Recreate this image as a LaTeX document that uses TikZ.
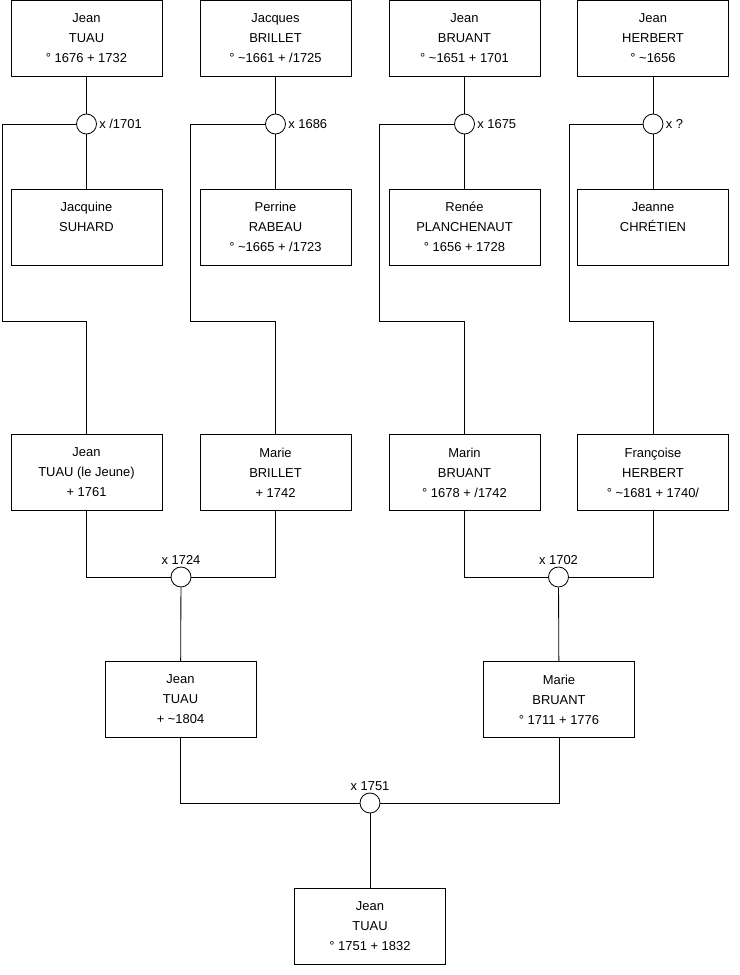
\documentclass[tikz,border=0pt]{standalone}
\usepackage{fontspec}
\setmainfont{Liberation Sans}
\usepackage{tikz}

\begin{document}
\begin{tikzpicture}[x=0.025cm, y=-0.025cm,
	personne/.style={draw, rectangle, line width=0.6pt, minimum width=3.775cm, minimum height=1.9cm, inner sep=0pt, align=center, font=\fontsize{9.2}{14.2}\selectfont, execute at end node={\\[-10pt]\mbox{}}},
	mariage/.style={draw, circle, line width=0.6pt, minimum size=0.5cm, inner sep=0pt, fill=white},
	date/.style={inner sep=1.5pt, font=\fontsize{9.2}{10}\selectfont},
	lien/.style={line width=0.6pt}]
				\useasboundingbox (0,0) rectangle (740,975);
				% Generation 1:
				\node[personne] (p1) at (86.5, 38.5){Jean\\TUAU\\° 1676 + 1732};
				\node[personne] (p2) at (275.5, 38.5){Jacques\\BRILLET\\° \textasciitilde1661 + /1725};
				\node[personne] (p3) at (464.5, 38.5){Jean\\BRUANT\\° \textasciitilde1651 + 1701};
				\node[personne] (p4) at (653, 38.5){Jean\\HERBERT\\° \textasciitilde1656};
				\node[mariage] (m1) at (86.5, 124){};
				\node[mariage] (m2) at (275.5, 124){};
				\node[mariage] (m3) at (464.5, 124){};
				\node[mariage] (m4) at (653, 124){};
				\node[date, anchor=west] (d1) at (m1.east){x /1701};
				\node[date, anchor=west] (d2) at (m2.east){x 1686};
				\node[date, anchor=west] (d3) at (m3.east){x 1675};
				\node[date, anchor=west] (d4) at (m4.east){x ?};
				\node[personne] (w1) at (86.5, 227){Jacquine\\SUHARD\\ \mbox{}};
				\node[personne] (w2) at (275.5, 227){Perrine\\RABEAU\\° \textasciitilde1665 + /1723};
				\node[personne] (w3) at (464.5, 227){Renée\\PLANCHENAUT\\° 1656 + 1728};
				\node[personne] (w4) at (653, 227){Jeanne\\CHRÉTIEN\\ \mbox{}};
				\draw[lien] (p1) -- (m1) -- (w1);
				\draw[lien] (p2) -- (m2) -- (w2);
				\draw[lien] (p3) -- (m3) -- (w3);
				\draw[lien] (p4) -- (m4) -- (w4);
				% Generation 2:
				\node[personne] (g1) at (86.5, 472.5){Jean\\TUAU (le Jeune)\\+ 1761};
				\node[personne] (g2) at (275.5, 472.5){Marie\\BRILLET\\+ 1742};
				\node[personne] (g3) at (464.5, 472.5){Marin\\BRUANT\\° 1678 + /1742};
				\node[personne] (g4) at (653, 472.5){Françoise\\HERBERT\\° \textasciitilde1681 + 1740/};
				\coordinate (k1) at (2, 321);
				\coordinate (k2) at (190, 321);
				\coordinate (k3) at (379, 321);
				\coordinate (k4) at (569, 321);
				\draw[lien] (m1.west) -| (k1) -| (g1.north);
				\draw[lien] (m2.west) -| (k2) -| (g2.north);
				\draw[lien] (m3.west) -| (k3) -| (g3.north);
				\draw[lien] (m4.west) -| (k4) -| (g4.north);
				\node[mariage] (n1) at (181, 577){};
				\node[mariage] (n2) at (558.5, 577){};
				\node[date, anchor=south] (e1) at (n1.north){x 1724};
				\node[date, anchor=south] (e2) at (n2.north){x 1702};
				\draw[lien] (g1.south) |- (n1.west);
				\draw[lien] (g2.south) |- (n1.east);
				\draw[lien] (g3.south) |- (n2.west);
				\draw[lien] (g4.south) |- (n2.east);
				% Generation 3:
				\node[personne] (h1) at (180.5, 699.5){Jean\\TUAU\\+ \textasciitilde1804};
				\node[personne] (h2) at (559, 699.5){Marie\\BRUANT\\° 1711 + 1776};
				\draw[lien] (n1) -- (h1);
				\draw[lien] (n2) -- (h2);
				\node[mariage] (o1) at (370, 803){};
				\node[date, anchor=south] (f1) at (o1.north){x 1751};
				\draw[lien] (h1.south) |- (o1.west);
				\draw[lien] (h2.south) |- (o1.east);
				% Generation 4:
				\node[personne] (r1) at (370, 926){Jean\\TUAU\\° 1751 + 1832};
				\draw[lien] (o1) -- (r1);
			\end{tikzpicture}
\end{document}
